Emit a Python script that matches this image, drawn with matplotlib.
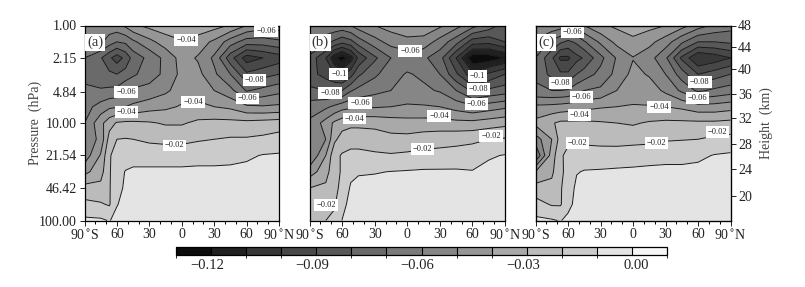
import numpy as np
import matplotlib
matplotlib.use('Agg')
import matplotlib.pyplot as plt
from matplotlib.colors import BoundaryNorm, ListedColormap
from matplotlib.cm import ScalarMappable
from matplotlib.transforms import ScaledTranslation

plt.rcParams['font.family'] = ['Liberation Serif', 'DejaVu Serif']

lats = [-90, -75, -67, -60, -52, -45, -30, -15, 0, 15, 30, 45, 60, 75, 90]
plevs = [1.0, 1.47, 2.15, 3.16, 4.64, 6.81, 10.0, 14.68, 21.54, 31.62, 46.42, 68.13, 100.0]

field_a = [
    [-.052, -.053, -.054, -.053, -.048, -.042, -.037, -.034, -.032, -.033, -.036, -.041, -.050, -.055, -.055],
    [-.055, -.058, -.065, -.070, -.068, -.062, -.053, -.045, -.041, -.045, -.052, -.065, -.075, -.075, -.072],
    [-.070, -.079, -.088, -.095, -.087, -.076, -.067, -.057, -.046, -.051, -.062, -.086, -.105, -.100, -.095],
    [-.073, -.076, -.078, -.080, -.076, -.072, -.064, -.058, -.047, -.047, -.058, -.070, -.088, -.084, -.080],
    [-.068, -.069, -.068, -.067, -.061, -.058, -.057, -.052, -.045, -.044, -.050, -.057, -.071, -.067, -.063],
    [-.064, -.056, -.052, -.051, -.050, -.048, -.044, -.042, -.039, -.038, -.040, -.042, -.048, -.049, -.048],
    [-.060, -.043, -.034, -.029, -.028, -.028, -.029, -.031, -.031, -.028, -.027, -.027, -.027, -.026, -.025],
    [-.058, -.047, -.026, -.020, -.0195, -.020, -.022, -.023, -.023, -.021, -.020, -.019, -.019, -.018, -.016],
    [-.056, -.039, -.0205, -.018, -.015, -.0135, -.0135, -.0135, -.0135, -.0135, -.0135, -.013, -.0115, -.0095, -.009],
    [-.043, -.034, -.021, -.014, -.0095, -.0085, -.0085, -.0085, -.0085, -.008, -.008, -.0078, -.0075, -.0068, -.0065],
    [-.026, -.027, -.021, -.012, -.009, -.006, -.006, -.006, -.006, -.006, -.006, -.0055, -.005, -.005, -.005],
    [-.0175, -.019, -.021, -.0105, -.007, -.005, -.005, -.005, -.005, -.005, -.005, -.0045, -.004, -.004, -.004],
    [-.008, -.0085, -.0105, -.007, -.005, -.004, -.004, -.004, -.004, -.004, -.004, -.004, -.004, -.004, -.004],
]

field_b = [
    [-.060, -.062, -.062, -.063, -.060, -.055, -.050, -.046, -.043, -.043, -.048, -.056, -.066, -.074, -.085],
    [-.068, -.076, -.082, -.087, -.083, -.075, -.064, -.056, -.053, -.054, -.064, -.076, -.095, -.097, -.090],
    [-.083, -.100, -.118, -.125, -.115, -.098, -.082, -.070, -.066, -.068, -.076, -.100, -.128, -.126, -.120],
    [-.086, -.094, -.100, -.102, -.094, -.082, -.072, -.064, -.059, -.062, -.070, -.088, -.107, -.098, -.090],
    [-.078, -.080, -.080, -.080, -.071, -.067, -.063, -.060, -.055, -.058, -.061, -.070, -.082, -.078, -.075],
    [-.065, -.062, -.058, -.054, -.052, -.051, -.051, -.050, -.049, -.049, -.050, -.054, -.058, -.055, -.052],
    [-.058, -.046, -.038, -.034, -.033, -.033, -.033, -.035, -.036, -.036, -.036, -.037, -.037, -.035, -.033],
    [-.058, -.050, -.032, -.026, -.023, -.023, -.025, -.027, -.027, -.025, -.024, -.023, -.022, -.020, -.019],
    [-.060, -.040, -.023, -.019, -.018, -.018, -.0185, -.019, -.018, -.017, -.0165, -.016, -.015, -.011, -.0095],
    [-.045, -.034, -.023, -.019, -.012, -.011, -.0105, -.0098, -.0093, -.0088, -.0088, -.0088, -.0095, -.0075, -.007],
    [-.030, -.028, -.024, -.016, -.009, -.007, -.007, -.007, -.006, -.006, -.006, -.006, -.006, -.005, -.005],
    [-.024, -.024, -.021, -.013, -.007, -.005, -.005, -.005, -.005, -.005, -.005, -.005, -.005, -.004, -.004],
    [-.021, -.020, -.018, -.0098, -.005, -.004, -.004, -.004, -.004, -.004, -.004, -.004, -.004, -.004, -.004],
]

field_c = [
    [-.050, -.053, -.055, -.058, -.056, -.050, -.042, -.038, -.036, -.037, -.040, -.046, -.055, -.062, -.066],
    [-.062, -.072, -.078, -.082, -.078, -.071, -.058, -.047, -.042, -.047, -.055, -.068, -.080, -.080, -.078],
    [-.070, -.088, -.102, -.102, -.093, -.089, -.073, -.059, -.0505, -.056, -.068, -.092, -.110, -.106, -.100],
    [-.072, -.083, -.088, -.088, -.080, -.075, -.067, -.057, -.047, -.051, -.060, -.075, -.090, -.085, -.080],
    [-.068, -.070, -.070, -.069, -.063, -.060, -.058, -.050, -.043, -.045, -.052, -.062, -.072, -.068, -.065],
    [-.048, -.047, -.046, -.045, -.044, -.043, -.041, -.040, -.0395, -.0395, -.040, -.042, -.046, -.046, -.044],
    [-.037, -.031, -.028, -.028, -.028, -.028, -.029, -.030, -.031, -.029, -.028, -.028, -.028, -.028, -.027],
    [-.055, -.040, -.026, -.023, -.023, -.023, -.024, -.025, -.024, -.023, -.021, -.0205, -.020, -.018, -.017],
    [-.070, -.035, -.022, -.0165, -.015, -.0145, -.0145, -.0135, -.013, -.013, -.0125, -.0125, -.012, -.0095, -.0085],
    [-.040, -.032, -.022, -.017, -.0105, -.0095, -.0092, -.009, -.0088, -.0082, -.008, -.008, -.0072, -.0065, -.006],
    [-.026, -.027, -.021, -.015, -.008, -.006, -.006, -.006, -.006, -.006, -.006, -.005, -.005, -.005, -.005],
    [-.016, -.021, -.021, -.013, -.007, -.005, -.005, -.005, -.005, -.005, -.005, -.004, -.004, -.004, -.004],
    [-.008, -.009, -.0105, -.0075, -.005, -.004, -.004, -.004, -.004, -.004, -.004, -.004, -.004, -.004, -.004],
]

levels = [-.13, -.12, -.11, -.10, -.09, -.08, -.07, -.06, -.05, -.04, -.03, -.02, -.01, 0.0, .01]
cbar_ticks = [-.12, -.09, -.06, -.03, 0.0]
cbar_labels = ['\u22120.12', '\u22120.09', '\u22120.06', '\u22120.03', '0.00']

x_ticks = [-90, -60, -30, 0, 30, 60, 90]
x_minor = [-80, -70, -50, -40, -20, -10, 10, 20, 40, 50, 70, 80]
x_labels = ['90$^{\\circ}$S', '60', '30', '0', '30', '60', '90$^{\\circ}$N']
p_ticks = [1.0, 2.15, 4.84, 10.0, 21.54, 46.42, 100.0]
p_labels = ['1.00', '2.15', '4.84', '10.00', '21.54', '46.42', '100.00']
height_km = [48, 44, 40, 36, 32, 28, 24, 20]
height_p = [1.0, 1.66, 2.81, 5.0, 8.8, 16.3, 29.9, 55.8]

labels_a = [(78, 1.13, '0.06'), (4, 1.41, '0.04'), (67.5, 3.64, '0.08'), (61, 5.6, '0.06'),
            (-51.5, 4.8, '0.06'), (10.6, 6.1, '0.04'), (-51, 7.7, '0.04'), (-7, 17.0, '0.02')]
labels_b = [(2.6, 1.84, '0.06'), (-63, 3.16, '0.1'), (64.6, 3.29, '0.1'), (65.5, 4.44, '0.08'),
            (-71, 4.92, '0.08'), (-43.4, 6.18, '0.06'), (64, 6.38, '0.06'), (-48.6, 9.0, '0.04'),
            (29.3, 8.47, '0.04'), (77, 13.6, '0.02'), (14, 18.4, '0.02'), (-74.7, 70.0, '0.02')]
labels_c = [(-56, 1.16, '0.06'), (-67, 3.88, '0.08'), (61.7, 3.79, '0.08'), (-47.3, 5.41, '0.06'),
            (59.6, 5.5, '0.06'), (-49.5, 8.2, '0.04'), (24, 6.85, '0.04'), (78, 12.3, '0.02'),
            (-51, 15.9, '0.02'), (21.8, 15.9, '0.02')]

grays = ['#0c0c0c', '#202020', '#383838', '#484848', '#585858', '#6a6a6a', '#7a7a7a',
         '#868686', '#969696', '#a9a9a9', '#bbbbbb', '#cbcbcb', '#e4e4e4', '#f6f6f6']
cmap = ListedColormap(grays)
norm = BoundaryNorm(levels, cmap.N)
W, H = 805.0, 287.0


def panel(rect, field, tag, clabels):
    ax = fig.add_axes([rect[0] / W, 1 - rect[3] / H, (rect[1] - rect[0]) / W, (rect[3] - rect[2]) / H])
    y = np.log10(plevs)
    ax.contourf(lats, y, np.array(field), levels=levels, cmap=cmap, norm=norm)
    ax.contour(lats, y, np.array(field), levels=levels[1:-1], colors='#1a1a1a', linewidths=0.7,
               linestyles='solid')
    ax.set_xlim(-90, 90)
    ax.set_ylim(2, 0)
    ax.set_xticks(x_ticks)
    ax.set_xticklabels(x_labels)
    ax.set_xticks(x_minor, minor=True)
    ax.set_yticks(np.log10(p_ticks))
    ax.tick_params(axis='both', which='major', direction='out', length=3.5, width=0.7, labelsize=10,
                   pad=2, colors='#222222')
    ax.tick_params(axis='x', which='minor', direction='out', length=2, width=0.7)
    for s in ax.spines.values():
        s.set_linewidth(0.9)
    for lat, p, txt in clabels:
        ax.text(lat, np.log10(p), '\u2212' + txt, fontsize=6, ha='center', va='center', color='#222222',
                bbox=dict(facecolor='white', edgecolor='none', pad=1.4), zorder=5)
    ax.text(0.055, 0.915, tag, transform=ax.transAxes, fontsize=10.5, ha='center', va='center',
            color='#333333', bbox=dict(facecolor='white', edgecolor='none', pad=1.3), zorder=5)
    return ax


fig = plt.figure(figsize=(8.05, 2.87), dpi=100)

ax_a = panel((84.5, 279, 25.5, 220.5), field_a, '(a)', labels_a)
ax_b = panel((309.5, 505, 25.5, 220.5), field_b, '(b)', labels_b)
ax_c = panel((535.5, 730.5, 25.5, 220.5), field_c, '(c)', labels_c)

ax_a.set_yticklabels(p_labels)
ax_a.set_ylabel('Pressure  (hPa)', fontsize=10, color='#444444', labelpad=-2)
ax_b.set_yticks([])
ax_c.set_yticks([])

ax_h = ax_c.twinx()
ax_h.set_ylim(2, 0)
ax_h.set_yticks(np.log10(height_p))
ax_h.set_yticklabels([str(h) for h in height_km])
ax_h.tick_params(axis='y', direction='out', length=3.5, width=0.7, labelsize=10, pad=2, colors='#222222')
ax_h.set_ylabel('Height  (km)', fontsize=10, color='#444444', labelpad=5)

cax = fig.add_axes([176 / W, 1 - 254.5 / H, (667 - 176) / W, 8 / H])
cb = fig.colorbar(ScalarMappable(norm=norm, cmap=cmap), cax=cax, orientation='horizontal',
                  ticks=cbar_ticks, spacing='uniform', drawedges=True)
cb.ax.set_xticklabels(cbar_labels)
cb.ax.tick_params(length=0, labelsize=10.5, pad=3, colors='#222222')
for t in cb.ax.get_xticklabels():
    dx = 4 if t.get_text() == '0.00' else -4
    t.set_transform(t.get_transform() + ScaledTranslation(dx / 100.0, 0, fig.dpi_scale_trans))
cb.outline.set_linewidth(0.9)
cb.dividers.set_linewidth(0.8)
cb.dividers.set_color('black')

fig.savefig('out.png', dpi=100)
